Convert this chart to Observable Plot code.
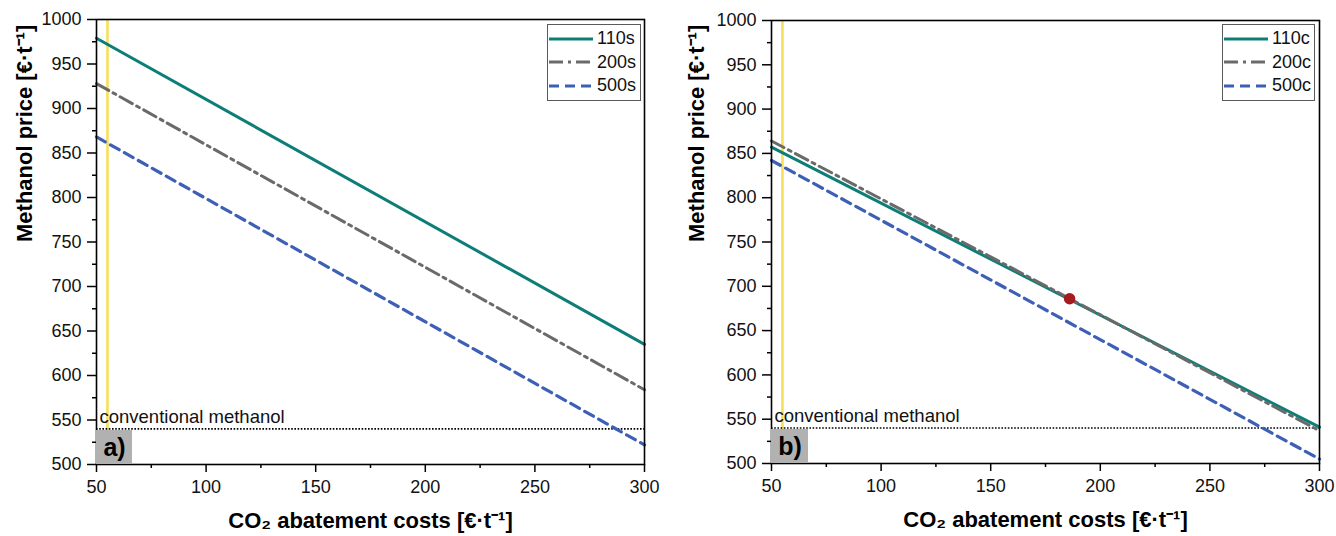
<!DOCTYPE html>
<html><head><meta charset="utf-8">
<script src="https://cdn.jsdelivr.net/npm/d3@7"></script>
<script src="https://cdn.jsdelivr.net/npm/@observablehq/plot@0.6"></script>
<style>
body{margin:0;background:#fff;font-family:"Liberation Sans",Arial,sans-serif;}
#wrap{display:flex;width:1336px;height:536px;overflow:hidden;}
.panel{position:relative;width:668px;height:536px;}
.legend{position:absolute;background:#fff;border:1px solid #5a5a5a;box-sizing:border-box;padding:2px 2px 2px 1px;}
.legend .row{display:flex;align-items:center;height:23.5px;font-size:18px;color:#111;}
.legend svg{margin-right:4px;}
.tag{position:absolute;background:#b1b1b1;font-weight:bold;font-size:25px;color:#000;display:flex;align-items:center;justify-content:center;box-sizing:border-box;padding-left:1px;}
</style></head><body><div id="wrap"></div>
<script>
// ---- data ----
const xTicks = [50, 100, 150, 200, 250, 300];
const xMinorTicks = [75, 125, 175, 225, 275];
const yTicks = [500, 550, 600, 650, 700, 750, 800, 850, 900, 950, 1000];
const yMinorTicks = [525, 575, 625, 675, 725, 775, 825, 875, 925, 975];
const abatementCosts = [50, 300];

const seriesA = ["110s", "200s", "500s"];
const priceA110 = [979, 635];
const priceA200 = [928, 584];
const priceA500 = [868, 522];

const seriesB = ["110c", "200c", "500c"];
const priceB110 = [857, 541];
const priceB200 = [864, 537];
const priceB500 = [842, 505];

const markerB = [{cost: 186, price: 686}];
const conventionalPrice = [540];
const conventionalLabel = ["conventional methanol"];
const referenceCost = [55];
const panelTags = ["a)", "b)"];

const xTitle = "CO₂ abatement costs [€·t⁻¹]";
const yTitle = "Methanol price [€·t⁻¹]";

// ---- styles ----
const lineStyles = [
  {color: "#0d7e77", dash: null, width: 3},
  {color: "#6a6a6a", dash: "14,5,3,5", width: 3},
  {color: "#3d5fb6", dash: "10,6", width: 3.2}
];

function rowsOf(names, arrays) {
  const out = [];
  names.forEach((n, i) => arrays[i].forEach((v, j) => out.push({series: n, cost: abatementCosts[j], price: v})));
  return out;
}

function makePanel(names, arrays, tag, geo, extraMarks) {
  const rows = rowsOf(names, arrays);
  const chart = Plot.plot({
    width: 668, height: 536,
    marginLeft: geo.ml, marginRight: geo.mr, marginTop: geo.mt, marginBottom: geo.mb,
    style: {fontFamily: "Liberation Sans, Arial, sans-serif", fontSize: "18px", color: "#111", background: "#fff"},
    x: {domain: [50, 300]},
    y: {domain: [500, 1000]},
    marks: [
      Plot.ruleX(referenceCost, {stroke: "#f6df5c", strokeWidth: 2.6}),
      Plot.ruleY(conventionalPrice, {stroke: "#000", strokeWidth: 1.6, strokeDasharray: "1.6,1.6"}),
      Plot.text(conventionalLabel, {y: () => conventionalPrice[0], frameAnchor: "left", textAnchor: "start", dx: 3, dy: -12, fontSize: 18.5, fill: "#111"}),
      ...names.map((n, i) => Plot.line(rows.filter(r => r.series === n), {x: "cost", y: "price", stroke: lineStyles[i].color, strokeWidth: lineStyles[i].width, strokeDasharray: lineStyles[i].dash})),
      ...extraMarks,
      Plot.axisX(xTicks, {tickSize: 8, tickPadding: 8, label: null, fontSize: 18, tickFormat: d3.format("d"), strokeWidth: 1.5, stroke: "#000", fill: "#111"}),
      Plot.axisX(xMinorTicks, {tickSize: 4, tickFormat: () => "", label: null, strokeWidth: 1.5, stroke: "#000"}),
      Plot.axisY(yTicks, {tickSize: 9, tickPadding: 6, label: null, fontSize: 18, tickFormat: d3.format("d"), strokeWidth: 1.5, stroke: "#000", fill: "#111"}),
      Plot.axisY(yMinorTicks, {tickSize: 4, tickFormat: () => "", label: null, strokeWidth: 1.5, stroke: "#000"}),
      Plot.frame({stroke: "#000", strokeWidth: 1.6}),
      Plot.text([xTitle], {frameAnchor: "bottom", dy: geo.xtDy, fontWeight: "bold", fontSize: 22, fill: "#000"}),
      Plot.text([yTitle], {frameAnchor: "left", dx: geo.ytDx, rotate: -90, fontWeight: "bold", fontSize: 22, fill: "#000"})
    ]
  });
  const div = document.createElement("div");
  div.className = "panel";
  div.appendChild(chart);
  const lg = document.createElement("div");
  lg.className = "legend";
  lg.style.left = geo.lgLeft + "px"; lg.style.top = geo.lgTop + "px"; lg.style.width = geo.lgWidth + "px";
  names.forEach((n, i) => {
    const r = document.createElement("div"); r.className = "row";
    const s = lineStyles[i];
    r.innerHTML = `<svg width="44" height="10"><line x1="0" x2="44" y1="5" y2="5" stroke="${s.color}" stroke-width="${s.width}" ${s.dash ? `stroke-dasharray="${s.dash}"` : ""}/></svg><span>${n}</span>`;
    lg.appendChild(r);
  });
  div.appendChild(lg);
  const t = document.createElement("div");
  t.className = "tag"; t.textContent = tag;
  t.style.left = geo.ml + "px"; t.style.top = geo.tagTop + "px";
  t.style.width = geo.tagW + "px"; t.style.height = (536 - geo.mb - geo.tagTop) + "px";
  div.appendChild(t);
  return div;
}

const wrap = document.getElementById("wrap");
wrap.appendChild(makePanel(seriesA, [priceA110, priceA200, priceA500], panelTags[0],
  {ml: 96, mr: 24, mt: 19, mb: 72, xtDy: 63, ytDx: -72, lgLeft: 547, lgTop: 24, lgWidth: 94, tagTop: 430, tagW: 36}, []));
wrap.appendChild(makePanel(seriesB, [priceB110, priceB200, priceB500], panelTags[1],
  {ml: 103, mr: 17, mt: 20, mb: 73, xtDy: 63, ytDx: -75, lgLeft: 554, lgTop: 24, lgWidth: 93, tagTop: 429, tagW: 37},
  [Plot.dot(markerB, {x: "cost", y: "price", r: 5, fill: "#a61b1f", stroke: "#a61b1f"})]));
</script>
</body></html>
